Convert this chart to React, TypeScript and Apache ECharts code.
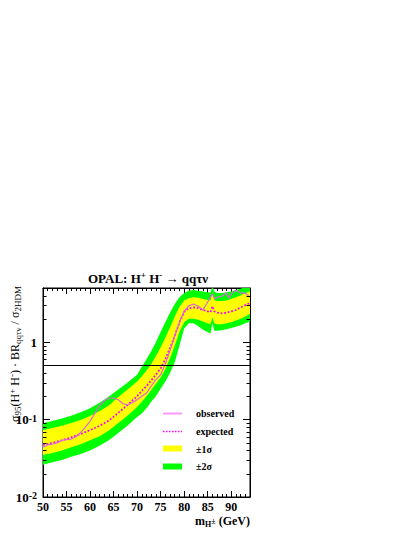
import React, { useEffect, useRef } from 'react';
import * as echarts from 'echarts';

// Mass grid for the expected curve and the bands (GeV)
const masses = [50, 52, 54, 56, 58, 60, 62, 64, 66, 68, 70, 71, 72, 73, 74, 75, 76, 77, 78, 79, 80, 81, 82, 83, 84, 85, 85.6, 86, 86.4, 87, 88, 89, 90, 91, 92, 93, 94];
const expected = [0.047, 0.050, 0.054, 0.059, 0.065, 0.073, 0.083, 0.097, 0.122, 0.155, 0.2, 0.235, 0.27, 0.32, 0.38, 0.46, 0.60, 0.84, 1.2, 1.8, 2.45, 2.75, 2.8, 2.75, 2.6, 2.5, 2.45, 2.9, 2.5, 2.4, 2.35, 2.4, 2.5, 2.6, 2.8, 3.0, 3.2];
const yellowUpper = [0.073, 0.078, 0.083, 0.090, 0.099, 0.111, 0.128, 0.152, 0.195, 0.245, 0.31, 0.36, 0.43, 0.52, 0.66, 0.85, 1.15, 1.55, 2.15, 2.85, 3.45, 3.7, 3.8, 3.75, 3.6, 3.5, 3.45, 4.3, 3.5, 3.4, 3.4, 3.45, 3.6, 3.8, 4.0, 4.3, 4.5];
const yellowLower = [0.035, 0.037, 0.040, 0.044, 0.048, 0.054, 0.061, 0.072, 0.090, 0.113, 0.145, 0.17, 0.20, 0.24, 0.29, 0.35, 0.45, 0.62, 0.9, 1.35, 1.8, 2.0, 2.0, 1.95, 1.85, 1.75, 1.7, 2.1, 1.75, 1.7, 1.7, 1.75, 1.8, 1.9, 2.0, 2.15, 2.3];
const greenUpper = [0.090, 0.096, 0.103, 0.112, 0.124, 0.140, 0.165, 0.198, 0.245, 0.30, 0.38, 0.48, 0.60, 0.76, 1.0, 1.35, 1.8, 2.4, 3.1, 3.8, 4.3, 4.6, 4.7, 4.6, 4.5, 4.4, 4.35, 5.3, 4.5, 4.3, 4.3, 4.4, 4.5, 4.7, 4.9, 5.2, 5.4];
const greenLower = [0.026, 0.028, 0.030, 0.033, 0.036, 0.040, 0.046, 0.054, 0.067, 0.084, 0.108, 0.12, 0.14, 0.17, 0.20, 0.25, 0.31, 0.40, 0.55, 0.9, 1.5, 1.75, 1.75, 1.6, 1.45, 1.35, 1.28, 1.75, 1.4, 1.4, 1.42, 1.47, 1.52, 1.58, 1.65, 1.75, 1.85];

// Observed limit
const obsMass = [50, 51, 52, 53, 54, 55, 56, 57, 58, 59, 60, 61, 62, 63, 64, 65, 66, 67, 68, 69, 70, 71, 72, 73, 74, 74.5, 75, 76, 77, 78, 79, 80, 81, 82, 83, 84, 85, 86, 86.5, 87, 88, 89, 89.5, 90, 91, 92, 93, 93.8];
const observed = [0.044, 0.047, 0.048, 0.050, 0.054, 0.055, 0.056, 0.060, 0.068, 0.080, 0.095, 0.12, 0.15, 0.175, 0.19, 0.19, 0.18, 0.16, 0.155, 0.165, 0.18, 0.2, 0.22, 0.27, 0.33, 0.35, 0.38, 0.52, 0.78, 1.2, 1.8, 2.5, 2.95, 3.1, 2.9, 2.6, 3.3, 4.2, 3.6, 3.8, 3.9, 4.3, 3.7, 4.2, 4.7, 4.3, 4.3, 3.9];

const referenceLine = 0.5;

// Axes
const xMin = 50;
const xMax = 94;
const xInterval = 5;
const yMin = 0.01;
const yMax = 5;
const yTickValues = [0.01, 0.1, 1];
const yTickTexts = ['10{sup|-2}', '10{sup|-1}', '1'];
const minorFactors = [2, 3, 4, 5, 6, 7, 8, 9];

const legendLabels = ['observed', 'expected', '\u00b11\u03c3', '\u00b12\u03c3'];

const SERIF = '"Liberation Serif", "DejaVu Serif", serif';
const GREEN = '#00ff00';
const YELLOW = '#ffff00';
const OBS_COLOR = '#dd66dd';
const EXP_COLOR = '#ff00ff';

function bandSeries(upper: number[], lower: number[], color: string, z: number) {
  return {
    type: 'custom',
    coordinateSystem: 'cartesian2d',
    silent: true,
    clip: true,
    z,
    data: [[masses[0], lower[0]]],
    renderItem: (params: any, api: any) => {
      const pts: number[][] = [];
      for (let i = 0; i < masses.length; i++) pts.push(api.coord([masses[i], upper[i]]));
      for (let i = masses.length - 1; i >= 0; i--) pts.push(api.coord([masses[i], lower[i]]));
      return {
        type: 'polygon',
        shape: { points: pts },
        style: { fill: color, stroke: null },
      };
    },
  };
}

const minorTickSeries = {
  type: 'custom',
  coordinateSystem: 'cartesian2d',
  silent: true,
  z: 20,
  data: [[60, 1]],
  renderItem: (params: any, api: any) => {
    const children: any[] = [];
    const xl = api.coord([xMin, 1])[0];
    const xr = api.coord([xMax, 1])[0];
    for (const d of yTickValues) {
      for (const f of minorFactors) {
        const v = d * f;
        if (v >= yMax) continue;
        const y = Math.round(api.coord([xMin, v])[1]) + 0.5;
        children.push({ type: 'line', shape: { x1: xl, y1: y, x2: xl + 3.5, y2: y }, style: { stroke: '#000', lineWidth: 1 } });
        children.push({ type: 'line', shape: { x1: xr, y1: y, x2: xr - 3.5, y2: y }, style: { stroke: '#000', lineWidth: 1 } });
      }
    }
    return { type: 'group', children };
  },
};

const supRich = {
  sup: { fontSize: 10, fontFamily: SERIF, fontWeight: 'bold', verticalAlign: 'top', lineHeight: 8, color: '#000' },
};

function yLabel(v: number) {
  for (let i = 0; i < yTickValues.length; i++) {
    if (Math.abs(Math.log10(v) - Math.log10(yTickValues[i])) < 1e-6) return yTickTexts[i];
  }
  return '';
}

export default function App() {
  const ref = useRef<HTMLDivElement>(null);
  useEffect(() => {
    if (!ref.current) return;
    const chart = echarts.init(ref.current, null, { renderer: 'svg' });
    const grid = { left: 43, top: 288, width: 207, height: 209 };
    const commonX = {
      type: 'value',
      min: xMin,
      max: xMax,
      interval: xInterval,
      splitLine: { show: false },
      axisLine: { show: true, lineStyle: { color: '#000', width: 1 } },
      axisTick: { show: true, inside: true, length: 6, lineStyle: { color: '#000' } },
      minorTick: { show: true, splitNumber: 5, length: 3, lineStyle: { color: '#000' } },
    };
    const commonY = {
      type: 'log',
      logBase: 10,
      min: yMin,
      max: yMax,
      splitLine: { show: false },
      axisLine: { show: true, lineStyle: { color: '#000', width: 1 } },
      axisTick: { show: true, inside: true, length: 7, lineStyle: { color: '#000' } },
    };
    chart.setOption({
      animation: false,
      backgroundColor: '#fff',
      grid: { ...grid, show: true, borderColor: '#000', borderWidth: 1, backgroundColor: 'transparent' },
      xAxis: [
        {
          ...commonX,
          position: 'bottom',
          axisLabel: {
            show: true,
            margin: 4,
            color: '#000',
            fontFamily: SERIF,
            fontWeight: 'bold',
            fontSize: 12,
            showMaxLabel: false,
            formatter: (v: number) => (v % xInterval === 0 && v < xMax ? String(v) : ''),
          },
        },
        { ...commonX, position: 'top', axisLabel: { show: false } },
      ],
      yAxis: [
        {
          ...commonY,
          position: 'left',
          axisLabel: {
            show: true,
            margin: 6,
            color: '#000',
            fontFamily: SERIF,
            fontWeight: 'bold',
            fontSize: 13,
            showMaxLabel: false,
            formatter: yLabel,
            rich: supRich,
          },
        },
        { ...commonY, position: 'right', axisLabel: { show: false } },
      ],
      series: [
        bandSeries(greenUpper, greenLower, GREEN, 1),
        bandSeries(yellowUpper, yellowLower, YELLOW, 2),
        {
          type: 'line',
          z: 3,
          data: masses.map((m, i) => [m, expected[i]]),
          showSymbol: false,
          symbol: 'none',
          silent: true,
          lineStyle: { color: EXP_COLOR, width: 1.8, type: [1.8, 1.8] },
        },
        {
          type: 'line',
          z: 4,
          data: obsMass.map((m, i) => [m, observed[i]]),
          showSymbol: false,
          symbol: 'none',
          silent: true,
          lineStyle: { color: OBS_COLOR, width: 1.2 },
          markLine: {
            silent: true,
            symbol: 'none',
            label: { show: false },
            lineStyle: { color: '#000', width: 1, type: 'solid' },
            data: [{ yAxis: referenceLine }],
            z: 10,
          },
        },
        minorTickSeries,
      ],
      graphic: [
        {
          type: 'text',
          x: 148,
          y: 278,
          style: {
            text: 'OPAL: H{sup|+} H{sup|-} \u2192 qq\u03c4\u03bd',
            font: `bold 13px ${SERIF}`,
            fill: '#000',
            align: 'center',
            verticalAlign: 'middle',
            lineHeight: 15,
            rich: {
              sup: { fontSize: 9, fontFamily: SERIF, fontWeight: 'bold', verticalAlign: 'top', lineHeight: 8, fill: '#000' },
            },
          },
        },
        {
          type: 'text',
          x: 15,
          y: 354,
          rotation: Math.PI / 2,
          style: {
            text: '\u03c3{sub|95}(H{sup|+} H{sup|-}) \u00b7 BR{sub|qq\u03c4\u03bd} / \u03c3{sub|2HDM}',
            font: `12px ${SERIF}`,
            fill: '#000',
            align: 'center',
            verticalAlign: 'middle',
            lineHeight: 15,
            rich: {
              sup: { fontSize: 9, fontFamily: SERIF, verticalAlign: 'top', lineHeight: 8, fill: '#000' },
              sub: { fontSize: 9, fontFamily: SERIF, verticalAlign: 'bottom', lineHeight: 8, fill: '#000' },
            },
          },
        },
        {
          type: 'text',
          x: 250,
          y: 521,
          style: {
            text: 'm{sub|H}{sup|\u00b1} (GeV)',
            font: `bold 12px ${SERIF}`,
            fill: '#000',
            align: 'right',
            verticalAlign: 'middle',
            lineHeight: 14,
            rich: {
              sup: { fontSize: 8, fontFamily: SERIF, fontWeight: 'bold', verticalAlign: 'middle', lineHeight: 14, fill: '#000' },
              sub: { fontSize: 8, fontFamily: SERIF, fontWeight: 'bold', verticalAlign: 'bottom', lineHeight: 7, fill: '#000' },
            },
          },
        },
        // legend
        { type: 'line', shape: { x1: 163, y1: 413.5, x2: 182, y2: 413.5 }, style: { stroke: '#ff99ff', lineWidth: 2 }, z: 30 },
        { type: 'line', shape: { x1: 163, y1: 431.5, x2: 182, y2: 431.5 }, style: { stroke: EXP_COLOR, lineWidth: 1.5, lineDash: [1.5, 1.5] }, z: 30 },
        { type: 'rect', shape: { x: 163, y: 445.5, width: 19, height: 6 }, style: { fill: YELLOW }, z: 30 },
        { type: 'rect', shape: { x: 163, y: 463.5, width: 19, height: 6 }, style: { fill: GREEN }, z: 30 },
        ...legendLabels.map((t, i) => ({
          type: 'text',
          x: 196,
          y: [413.5, 431.5, 449, 466.5][i],
          z: 30,
          style: { text: t, font: `bold 10px ${SERIF}`, fill: '#000', align: 'left', verticalAlign: 'middle' },
        })),
      ],
    });
    return () => chart.dispose();
  }, []);
  return <div ref={ref} style={{ position: 'fixed', left: 0, top: 0, width: 415, height: 537, background: '#fff' }} />;
}
